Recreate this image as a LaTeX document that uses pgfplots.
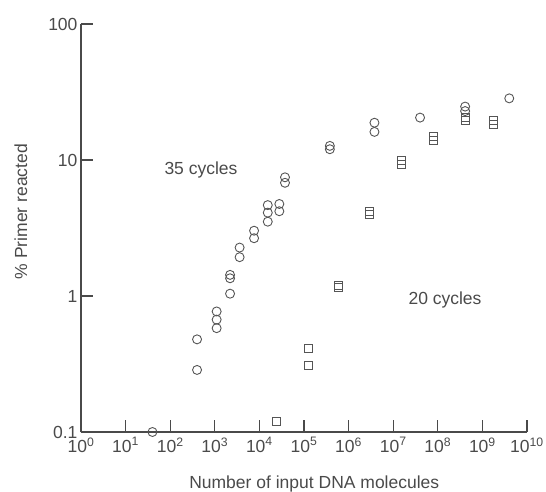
\documentclass[border=0pt]{standalone}
\usepackage{fontspec}
\setmainfont{Liberation Sans}
\usepackage{pgfplots}
\pgfplotsset{compat=1.18}
\definecolor{ink}{HTML}{4A4A4A}
\definecolor{markc}{HTML}{555555}
\begin{document}
\begin{tikzpicture}[font=\fontsize{17.5}{21}\selectfont, text=ink]
\begin{axis}[
  xmode=log, ymode=log,
  scale only axis, width=446pt, height=408pt,
  xmin=1, xmax=1e10, ymin=0.1, ymax=100,
  axis x line=bottom, axis y line=left,
  axis line style={-, ink, line width=1.1pt},
  xtick={1,10,100,1000,1e4,1e5,1e6,1e7,1e8,1e9,1e10},
  xticklabels={10\textsuperscript{0},10\textsuperscript{1},10\textsuperscript{2},10\textsuperscript{3},10\textsuperscript{4},10\textsuperscript{5},10\textsuperscript{6},10\textsuperscript{7},10\textsuperscript{8},10\textsuperscript{9},10\textsuperscript{10}},
  ytick={0.1,1,10,100},
  yticklabels={0.1,1,10,100},
  xminorticks=false, yminorticks=false,
  tick align=inside, major tick length=12pt,
  tick style={ink, line width=1.1pt},
  ticklabel style={font=\fontsize{17.5}{21}\selectfont, text=ink},
  xticklabel style={yshift=-2pt},
  label style={font=\fontsize{17.5}{21}\selectfont, text=ink},
  xlabel={Number of input DNA molecules},
  ylabel={\% Primer reacted},
  xlabel style={at={(axis description cs:0.523,-0.127)}, anchor=center},
  ylabel style={at={(axis description cs:-0.135,0.54)}, anchor=center, rotate=0},
  clip=false,
]
\addplot[only marks, mark=o, mark size=4.5pt, draw=markc, mark options={line width=0.9pt}] coordinates {
(40,0.1)
(400,0.48) (400,0.286)
(1100,0.77) (1100,0.67) (1100,0.58)
(2200,1.43) (2200,1.35) (2200,1.04)
(3600,2.27) (3600,1.93)
(7600,3.02) (7600,2.66)
(15400,4.66) (15400,4.1) (15400,3.52)
(28000,4.75) (28000,4.2)
(37500,7.46) (37500,6.8)
(3.8e5,12.7) (3.8e5,12.0)
(3.8e6,18.8) (3.8e6,16.1)
(4e7,20.5)
(4.1e8,24.7) (4.1e8,22.9)
(4e9,28.4)
};
\addplot[only marks, mark=square, mark size=4pt, draw=markc, mark options={line width=0.9pt}] coordinates {
(23500,0.12)
(1.25e5,0.41) (1.25e5,0.31)
(5.9e5,1.2) (5.9e5,1.16)
(3e6,4.2) (3e6,3.95)
(1.5e7,9.9) (1.5e7,9.3)
(7.9e7,15) (7.9e7,14)
(4.1e8,20.5) (4.1e8,19.6)
(1.8e9,19.5) (1.8e9,18.2)
};
\node[font=\fontsize{17.5}{21}\selectfont, text=ink] at (axis cs:490,8.4) {35 cycles};
\node[font=\fontsize{17.5}{21}\selectfont, text=ink] at (axis cs:1.45e8,0.93) {20 cycles};
\coordinate (sw) at (rel axis cs:0,0);
\coordinate (ne) at (rel axis cs:1,1);
\end{axis}
\pgfresetboundingbox
\path ([shift={(-81pt,-60pt)}]sw) rectangle ([shift={(19pt,24pt)}]ne);
\end{tikzpicture}
\end{document}
